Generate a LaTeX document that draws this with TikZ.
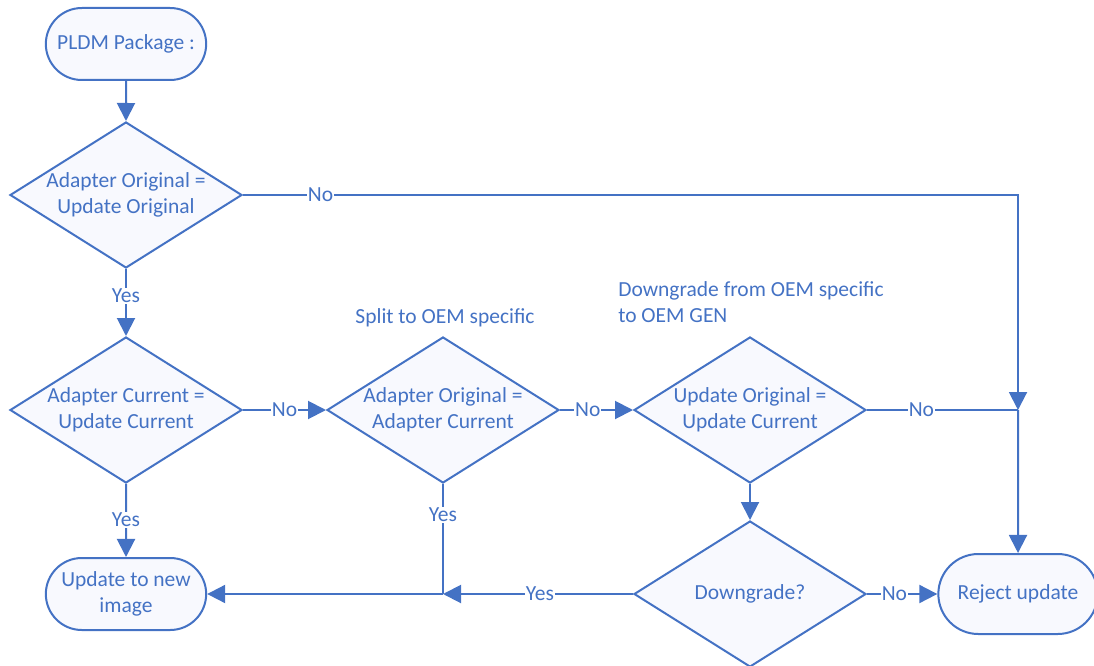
\documentclass[tikz,border=0pt]{standalone}
\usepackage{fontspec}
\setmainfont{Carlito}
\usepackage{xcolor}
\usetikzlibrary{arrows.meta,shapes.geometric,shapes.misc,positioning}
\definecolor{flowblue}{RGB}{68,114,196}
\definecolor{flowfill}{RGB}{248,249,254}
\tikzset{%
	terminal/.style = {draw=flowblue, fill=flowfill, rounded rectangle, line width=2pt, text=flowblue, minimum width=167pt, minimum height=72pt, align=center},
	decision/.style = {draw=flowblue, fill=flowfill, diamond, aspect=1.59, line width=2pt, text=flowblue, minimum width=232pt, minimum height=146pt, inner sep=-2pt, align=center},
	arrow/.style    = {draw=flowblue, line width=2pt, -{Triangle[width=18pt,length=18pt]}},
	link/.style     = {draw=flowblue, line width=2pt},
	lbl/.style      = {fill=white, text=flowblue, inner sep=1pt},
}

\begin{document}
\begin{tikzpicture}[x=1pt,y=-1pt,font=\fontsize{21.5}{26}\selectfont]
	\useasboundingbox (0,0) rectangle (1094,666);
	
	\node[terminal] (start) at (126,44) {PLDM Package :};
	\node[decision] (d1) at (126,195) {Adapter Original =\\Update Original};
	\node[decision] (d2) at (126,410) {Adapter Current =\\Update Current};
	\node[decision] (d3) at (443,410) {Adapter Original =\\Adapter Current};
	\node[decision] (d4) at (750,410) {Update Original =\\Update Current};
	\node[decision] (d5) at (750,594) {Downgrade?};
	\node[terminal] (upd) at (126,594) {Update to new\\image};
	\node[terminal, minimum width=166pt, minimum height=80pt] (rej) at (1018,594) {Reject update};
	
	\node[text=flowblue] (t3) at (445,318) {Split to OEM specific};
	\node[text=flowblue, align=left] (t4) at (751,302) {Downgrade from OEM specific\\to OEM GEN};
	
	\coordinate (c1) at (1018,195);
	\coordinate (jn) at (1018,410);
	\coordinate (jy) at (443,594);
	
	\draw[arrow] (start) -- (d1);
	\draw[arrow] (d1.east) -- node[lbl,pos=0.1] {No} (c1) -- (jn);
	\draw[arrow] (jn) -- (rej);
	\draw[arrow] (d1) -- node[lbl,pos=0.4] {Yes} (d2);
	\draw[arrow] (d2) -- node[lbl,pos=0.5] {No} (d3);
	\draw[arrow] (d3) -- node[lbl,pos=0.38] {No} (d4);
	\draw[link] (d4.east) -- node[lbl,pos=0.36] {No} (jn);
	\draw[arrow] (d4) -- (d5);
	\draw[arrow] (d5) -- node[lbl,pos=0.39] {No} (rej);
	\draw[arrow] (d2) -- node[lbl,pos=0.49] {Yes} (upd);
	\draw[link] (d3.south) -- node[lbl,pos=0.28] {Yes} (jy);
	\draw[arrow] (d5.west) -- node[lbl,pos=0.49] {Yes} (jy);
	\draw[arrow] (jy) -- (upd.east);
\end{tikzpicture}
\end{document}
